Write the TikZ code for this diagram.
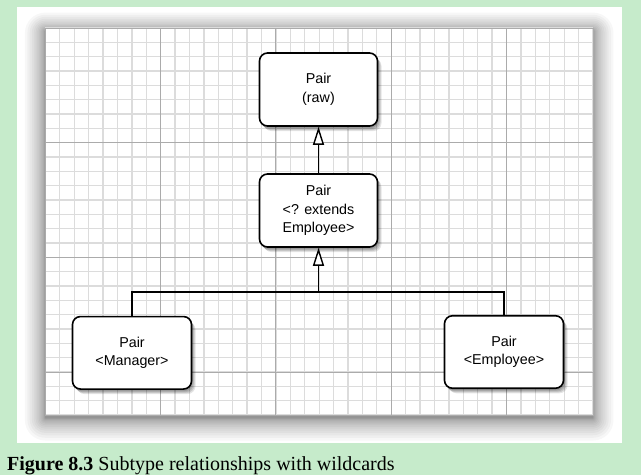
\documentclass[tikz,border=0pt]{standalone}
\usepackage{fontspec}
\setmainfont{Liberation Serif}
\newfontfamily\boxfont{Liberation Sans}
\usetikzlibrary{arrows.meta,shadows}
\definecolor{bggreen}{HTML}{C6EBCB}
\definecolor{minorgrid}{HTML}{DCDCDC}
\definecolor{majorgrid}{HTML}{ABABAB}
\tikzset{
  minorline/.style={draw=minorgrid, line width=1.3pt},
  majorline/.style={draw=majorgrid, line width=1pt},
  pbox/.style={draw=black, line width=1.6pt, fill=white, rounded corners=8pt,
    minimum width=118pt, minimum height=73pt, inner sep=0pt, align=center,
    font=\boxfont\fontsize{14.3}{18.5}\selectfont,
    drop shadow={shadow xshift=1pt, shadow yshift=-2pt, opacity=0.12, fill=black},
    drop shadow={shadow xshift=2pt, shadow yshift=-3pt, opacity=0.12, fill=black},
    drop shadow={shadow xshift=3pt, shadow yshift=-4pt, opacity=0.12, fill=black},
    drop shadow={shadow xshift=4pt, shadow yshift=-5pt, opacity=0.10, fill=black}},
  conn/.style={draw=black, line width=1.6pt},
  inh/.style={conn, -{Triangle[length=18pt, width=11pt, fill=white, line width=1.4pt]}}
}
\begin{document}
\begin{tikzpicture}[x=1pt, y=-1pt]
\useasboundingbox (0,0) rectangle (641,475);
\fill[bggreen] (0,0) rectangle (641,475);
\fill[white] (17,7) rectangle (622,443);
% soft shadow around the grid sheet
\foreach \i in {1,...,16} {
  \pgfmathsetmacro{\e}{0.08*\i*\i}
  \fill[black, opacity=0.03, rounded corners=\e pt]
    ({45.4-\e}, {31-0.9*\e}) rectangle ({593+\e}, {418+1.1*\e});
}
% grid
\fill[white] (45.4,28.1) rectangle (593,415);
\foreach \k in {0,...,38} \draw[minorline] ({45.4+14.41*\k},28.1) -- ({45.4+14.41*\k},415);
\foreach \k in {0,...,27} \draw[minorline] (45.4,{28.1+14.33*\k}) -- (593,{28.1+14.33*\k});
\foreach \k in {8,16,24,32} \draw[majorline] ({45.4+14.41*\k},28.1) -- ({45.4+14.41*\k},415);
\foreach \k in {8,16,24} \draw[majorline] (45.4,{28.1+14.33*\k}) -- (593,{28.1+14.33*\k});
\draw[majorline] (45.4,28.1) rectangle (593,415);
% nodes
\node[pbox] (raw) at (318.5,89.5) {Pair\\(raw)};
\node[pbox] (ext) at (318.5,210.5) {Pair\\<? extends\\Employee>};
\node[pbox, minimum width=119pt, minimum height=72.5pt] (man) at (132,352.8) {Pair\\<Manager>};
\node[pbox, minimum width=119pt, minimum height=72.5pt] (emp) at (504,352) {Pair\\<Employee>};
% connectors
\coordinate (bar) at (318.5,292);
\draw[inh] (ext.north) -- (raw.south);
\draw[inh] (bar) -- (ext.south);
\draw[conn] (man.north) -- (man.north |- bar) -- (emp.north |- bar) -- (emp.north);
% caption
\node[anchor=base west, inner sep=0pt, font=\fontsize{20}{22}\selectfont] (cap) at (7,470)
  {\textbf{Figure 8.3} Subtype relationships with wildcards};
\end{tikzpicture}
\end{document}
